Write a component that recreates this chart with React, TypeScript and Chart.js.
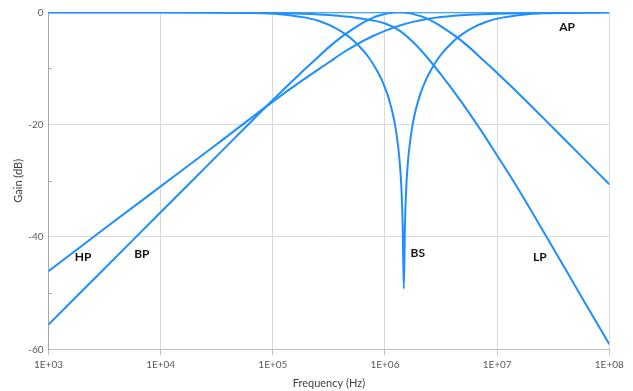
import React, { useEffect, useRef } from 'react';
import { Chart, registerables } from 'chart.js';

Chart.register(...registerables);

// ---- axis ticks ----
const xTickValues = [1e3, 1e4, 1e5, 1e6, 1e7, 1e8];
const yMinorTicks = [-10, -30, -50];

// ---- series (frequency in Hz, gain in dB) ----
const lpFreq = [1e3, 1e4, 3.162e4, 1e5, 1.778e5, 3.162e5, 5.623e5, 1e6, 1.358e6, 1.778e6, 2.371e6, 3.162e6, 4.217e6, 5.623e6, 7.499e6, 1e7, 1.334e7, 1.778e7, 3.162e7, 5.623e7, 1e8];
const lpGain = [0, 0, -0.03, -0.1, -0.25, -0.5, -1.0, -2.0, -3.3, -5.3, -8.0, -11.1, -14.4, -17.9, -21.6, -25.5, -29.4, -33.5, -42.0, -50.6, -59.1];

const hpFreq = [1e3, 3.162e3, 1e4, 3.162e4, 1e5, 1.778e5, 3.162e5, 4.217e5, 5.623e5, 7.499e5, 1e6, 1.334e6, 1.778e6, 2.371e6, 3.162e6, 5.623e6, 1e7, 3.162e7, 1e8];
const hpGain = [-46.1, -38.5, -31.0, -23.5, -15.9, -12.3, -8.9, -7.2, -5.7, -4.4, -3.3, -2.4, -1.7, -1.2, -0.85, -0.45, -0.25, -0.08, 0];

const bpFreq = [1e3, 3.162e3, 1e4, 3.162e4, 1e5, 1.778e5, 2.371e5, 3.162e5, 4.217e5, 5.623e5, 6.683e5, 7.943e5, 1e6, 1.059e6, 1.334e6, 1.679e6, 1.778e6, 2.239e6, 2.661e6, 3.162e6, 4.217e6, 5.623e6, 7.499e6, 1e7, 1.778e7, 3.162e7, 5.623e7, 1e8];
const bpGain = [-55.6, -45.6, -35.6, -25.6, -15.6, -10.8, -8.5, -6.2, -4.2, -2.5, -1.6, -0.9, -0.3, -0.19, 0, -0.19, -0.3, -0.9, -1.6, -2.5, -4.2, -6.2, -8.5, -10.8, -15.6, -20.6, -25.6, -30.6];

const bsFreq = [1e3, 1e4, 4.655e4, 8.277e4, 1.104e5, 1.472e5, 1.963e5, 2.618e5, 3.697e5, 4.655e5, 5.223e5, 5.86e5, 6.575e5, 7.377e5, 8.277e5, 9.288e5, 1.042e6, 1.104e6, 1.169e6, 1.239e6, 1.312e6, 1.342e6, 1.374e6, 1.406e6, 1.438e6, 1.472e6, 1.506e6, 1.541e6, 1.577e6, 1.614e6, 1.652e6, 1.749e6, 1.853e6, 1.963e6, 2.079e6, 2.333e6, 2.618e6, 2.937e6, 3.295e6, 3.697e6, 4.148e6, 4.655e6, 5.86e6, 8.277e6, 1.104e7, 1.472e7, 1.963e7, 2.618e7, 4.655e7, 1e8];
const bsGain = [0, 0, -0.06, -0.18, -0.3, -0.55, -0.95, -1.6, -2.9, -4.2, -5.0, -6.0, -7.1, -8.4, -10.0, -11.9, -14.4, -16.0, -17.9, -20.4, -24.0, -25.9, -28.4, -31.9, -38.0, -49.2, -38.0, -31.9, -28.4, -25.9, -24.0, -20.4, -17.9, -16.0, -14.4, -11.9, -10.0, -8.4, -7.1, -6.0, -5.0, -4.2, -2.9, -1.6, -0.95, -0.55, -0.3, -0.18, -0.06, 0];

const apFreq = [1e3, 1e8];
const apGain = [0, 0];

const seriesNames = ['LP', 'HP', 'BP', 'BS', 'AP'];
const seriesFreqs = [lpFreq, hpFreq, bpFreq, bsFreq, apFreq];
const seriesGains = [lpGain, hpGain, bpGain, bsGain, apGain];

// curve labels anchored in data coordinates (frequency, gain)
const labelTexts = ['HP', 'BP', 'BS', 'LP', 'AP'];
const labelFreqs = [2.03e3, 6.8e3, 1.96e6, 2.4e7, 4.2e7];
const labelGains = [-43.6, -43.0, -42.8, -43.6, -2.6];

const LINE_COLOR = '#1E8FFF';
const FONT = 'Lato, "Open Sans", "Liberation Sans", sans-serif';

const annotPlugin = {
  id: 'annot',
  afterDatasetsDraw(chart: any) {
    const { ctx, scales } = chart;
    const x = scales.x;
    const y = scales.y;
    ctx.save();
    ctx.strokeStyle = '#a6a6a6';
    ctx.lineWidth = 1;
    yMinorTicks.forEach((v) => {
      const py = Math.round(y.getPixelForValue(v)) + 0.5;
      ctx.beginPath();
      ctx.moveTo(x.left, py);
      ctx.lineTo(x.left + 3, py);
      ctx.stroke();
    });
    ctx.font = 'bold 12px ' + FONT;
    ctx.fillStyle = '#111111';
    ctx.textAlign = 'center';
    ctx.textBaseline = 'middle';
    labelTexts.forEach((t, i) => {
      ctx.fillText(t, x.getPixelForValue(labelFreqs[i]), y.getPixelForValue(labelGains[i]));
    });
    ctx.restore();
  },
};

export default function App() {
  const ref = useRef<HTMLCanvasElement | null>(null);

  useEffect(() => {
    if (!ref.current) return;
    const datasets = seriesNames.map((name, i) => ({
      label: name,
      data: seriesFreqs[i].map((f, j) => ({ x: f, y: seriesGains[i][j] })),
      borderColor: LINE_COLOR,
      backgroundColor: LINE_COLOR,
      borderWidth: 2,
      pointRadius: 0,
      fill: false,
      cubicInterpolationMode: 'monotone' as const,
    }));

    const chart = new Chart(ref.current, {
      type: 'line',
      data: { datasets },
      plugins: [annotPlugin],
      options: {
        animation: false,
        responsive: false,
        layout: { padding: { top: 12.3, right: 23.7, bottom: 0, left: 0 } },
        plugins: {
          legend: { display: false },
          tooltip: { enabled: false },
        },
        scales: {
          x: {
            type: 'logarithmic',
            min: 1e3,
            max: 1e8,
            afterBuildTicks: (s: any) => {
              s.ticks = xTickValues.map((v) => ({ value: v }));
            },
            afterFit: (s: any) => {
              s.height = 41.7;
            },
            ticks: {
              autoSkip: false,
              maxRotation: 0,
              padding: 3,
              color: '#595959',
              font: { family: FONT, size: 10 },
              callback: (v: any) => '1E+' + String(Math.round(Math.log10(Number(v)))).padStart(2, '0'),
            },
            grid: { color: '#d9d9d9', tickLength: 6, tickColor: '#bfbfbf' },
            border: { color: '#bfbfbf' },
            title: {
              display: true,
              text: 'Frequency (Hz)',
              color: '#404040',
              font: { family: FONT, size: 11 },
              padding: { top: 0, bottom: 1 },
            },
          },
          y: {
            type: 'linear',
            min: -60,
            max: 0,
            afterFit: (s: any) => {
              s.width = 48.5;
            },
            ticks: {
              stepSize: 20,
              padding: 5,
              color: '#595959',
              font: { family: FONT, size: 10 },
            },
            grid: { color: '#d9d9d9', drawTicks: false },
            border: { color: '#a6a6a6' },
            title: {
              display: true,
              text: 'Gain (dB)',
              color: '#404040',
              font: { family: FONT, size: 11 },
              padding: { top: 12, bottom: 0 },
            },
          },
        },
      },
    });
    return () => chart.destroy();
  }, []);

  return (
    <div style={{ position: 'absolute', left: 0, top: 0, width: 633, height: 391 }}>
      <canvas ref={ref} width={633} height={391} />
    </div>
  );
}
